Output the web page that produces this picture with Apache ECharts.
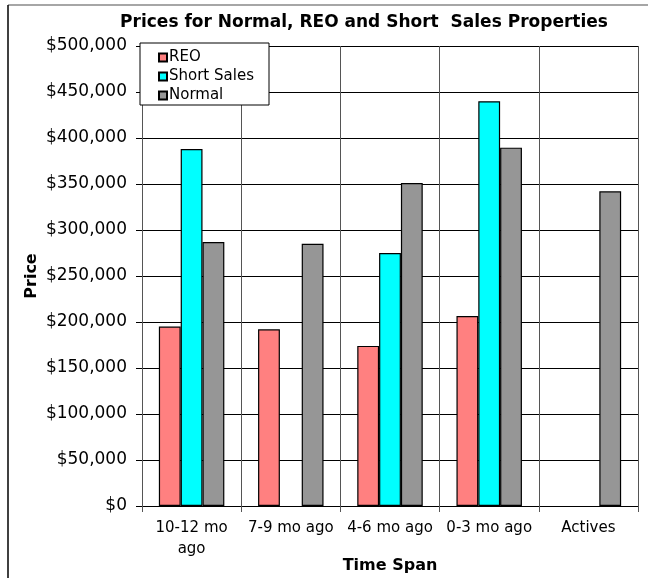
<!DOCTYPE html>
<html>
<head>
<meta charset="utf-8">
<script src="https://cdn.jsdelivr.net/npm/echarts@6/dist/echarts.min.js"></script>
<style>
html, body { margin: 0; padding: 0; background: #fff; }
#main { width: 648px; height: 578px; }
</style>
</head>
<body>
<div id="main"></div>
<script>
var categories = ['10-12 mo\nago', '7-9 mo ago', '4-6 mo ago', '0-3 mo ago', 'Actives'];
var reo = [195000, 192000, 174000, 206500, null];
var shortSales = [388000, null, 275000, 440000, null];
var normal = [287000, 285000, 351000, 389500, 342000];
var yTicks = { min: 0, max: 500000, step: 50000 };

(function(){
    var myChart = echarts.init(document.getElementById('main'));
    var font = 'DejaVu Sans, sans-serif';
    var barStyle = function (c) {
        return { color: c, borderColor: '#000', borderWidth: 1.2 };
    };
    var option = {
        animation: false,
        backgroundColor: '#fff',
        textStyle: { fontFamily: font },
        title: {
            text: 'Prices for Normal, REO and Short  Sales Properties',
            left: 359,
            textAlign: 'center',
            top: 9,
            textStyle: { fontSize: 17, fontWeight: 'bold', color: '#000', fontFamily: font }
        },
        graphic: [
            { type: 'line', shape: { x1: 8, y1: 5, x2: 648, y2: 5 }, style: { stroke: '#888', lineWidth: 1.5 }, z: 100 },
            { type: 'line', shape: { x1: 8, y1: 5, x2: 8, y2: 578 }, style: { stroke: '#000', lineWidth: 1.5 }, z: 100 },
            { type: 'rect', shape: { x: 140, y: 43, width: 129, height: 62 }, style: { fill: '#fff', stroke: '#000', lineWidth: 1 }, z: 90 }
        ],
        legend: {
            left: 153,
            top: 45,
            orient: 'vertical',
            itemGap: 4,
            itemWidth: 8,
            itemHeight: 8,
            icon: 'rect',
            z: 95,
            textStyle: { fontSize: 15, color: '#000', fontFamily: font, padding: [0, 0, 0, -3] },
            data: ['REO', 'Short Sales', 'Normal']
        },
        grid: { left: 142, right: 10, top: 46, bottom: 72, outerBoundsMode: 'none' },
        xAxis: {
            type: 'category',
            data: categories,
            name: 'Time Span',
            nameLocation: 'middle',
            nameGap: 52,
            nameMoveOverlap: false,
            nameTextStyle: { fontSize: 16, fontWeight: 'bold', color: '#000', fontFamily: font },
            axisLine: { lineStyle: { color: '#000', width: 1 } },
            axisTick: { show: true, length: 6, lineStyle: { color: '#555' } },
            axisLabel: { fontSize: 15, color: '#000', interval: 0, margin: 12, lineHeight: 21, fontFamily: font },
            splitLine: { show: true, lineStyle: { color: '#555', width: 1 } }
        },
        yAxis: {
            type: 'value',
            min: yTicks.min,
            max: yTicks.max,
            interval: yTicks.step,
            name: 'Price',
            nameLocation: 'middle',
            nameRotate: 90,
            nameGap: 102,
            nameMoveOverlap: false,
            nameTextStyle: { fontSize: 16, fontWeight: 'bold', color: '#000', fontFamily: font },
            axisLine: { show: true, lineStyle: { color: '#555', width: 1 } },
            axisTick: { show: true, length: 6, lineStyle: { color: '#000' } },
            axisLabel: {
                fontSize: 17, color: '#000', margin: 15, fontFamily: font,
                formatter: function (v) { return '$' + v.toLocaleString('en-US'); }
            },
            splitLine: { show: true, lineStyle: { color: '#000', width: 1 } }
        },
        series: [
            { name: 'REO', type: 'bar', data: reo, barGap: '0%', barCategoryGap: '34%', itemStyle: barStyle('#FF8080') },
            { name: 'Short Sales', type: 'bar', data: shortSales, itemStyle: barStyle('#00FFFF') },
            { name: 'Normal', type: 'bar', data: normal, itemStyle: barStyle('#969696') }
        ]
    };
    myChart.setOption(option);
})();
</script>
</body>
</html>
